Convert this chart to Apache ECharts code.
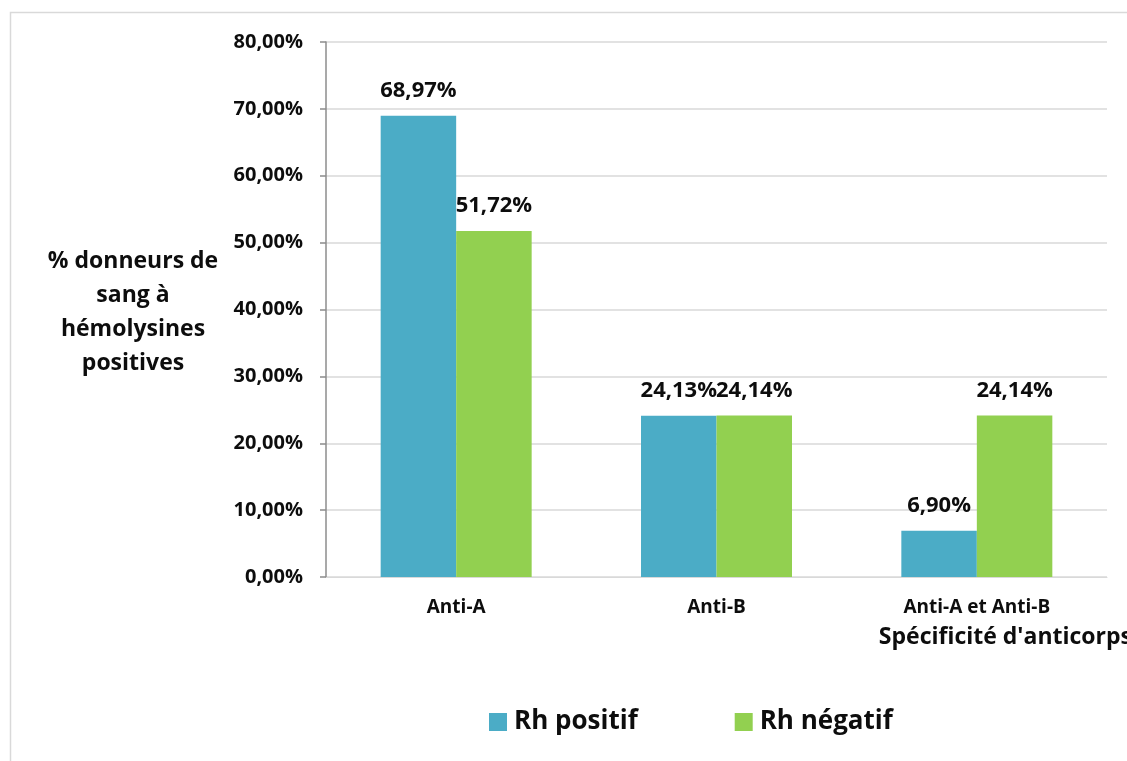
<!DOCTYPE html>
<html>
<head>
<meta charset="utf-8">
<script src="https://cdn.jsdelivr.net/npm/echarts@6/dist/echarts.min.js"></script>
<style>
  html, body { margin: 0; padding: 0; background: #fff; }
  #chart { width: 1127px; height: 761px; }
</style>
</head>
<body>
<div id="chart"></div>
<script>
// Hemolysin-positive donors by antibody specificity and Rh group
const categories = ['Anti-A', 'Anti-B', 'Anti-A et Anti-B'];
const rhPositif = [68.97, 24.13, 6.90];
const rhNegatif = [51.72, 24.14, 24.14];
const seriesNames = ['Rh positif', 'Rh négatif'];
const yTicks = [0, 10, 20, 30, 40, 50, 60, 70, 80];

const FONT = '"Open Sans", "Noto Sans", sans-serif';
const INK = '#0d0d0d';
const fmt = v => v.toFixed(2).replace('.', ',') + '%';

const chart = echarts.init(document.getElementById('chart'), null, { renderer: 'canvas' });

const labelCfg = {
  show: true,
  position: 'top',
  distance: 14,
  fontFamily: FONT,
  fontWeight: 'bold',
  fontSize: 22,
  color: INK,
  formatter: p => fmt(p.value)
};

chart.setOption({
  backgroundColor: '#fff',
  animation: false,
  grid: { left: 326, right: 20, top: 42, bottom: 184, containLabel: false },
  legend: {
    data: seriesNames,
    bottom: 21,
    left: 484,
    itemWidth: 18,
    itemHeight: 18,
    itemGap: 97,
    icon: 'rect',
    textStyle: { fontFamily: FONT, fontWeight: 'bold', fontSize: 26, color: INK, padding: [0, 0, 0, 2] }
  },
  xAxis: {
    type: 'category',
    data: categories,
    axisLine: { lineStyle: { color: '#d9d9d9', width: 1 } },
    axisTick: { show: false },
    axisLabel: { margin: 21, fontFamily: FONT, fontWeight: 'bold', fontSize: 19, color: INK }
  },
  yAxis: {
    type: 'value',
    min: yTicks[0],
    max: yTicks[yTicks.length - 1],
    interval: 10,
    axisLine: { show: true, lineStyle: { color: '#8c8c8c', width: 1.5 } },
    axisTick: { show: true, length: 6, inside: false, lineStyle: { color: '#8c8c8c', width: 1.5 } },
    splitLine: { lineStyle: { color: '#d9d9d9', width: 1.5 } },
    axisLabel: { margin: 23, fontFamily: FONT, fontWeight: 'bold', fontSize: 20, color: INK, formatter: v => fmt(v) }
  },
  series: [
    {
      name: seriesNames[0],
      type: 'bar',
      data: rhPositif,
      barGap: '0%',
      barCategoryGap: '42%',
      itemStyle: { color: '#4BACC6' },
      label: labelCfg
    },
    {
      name: seriesNames[1],
      type: 'bar',
      data: rhNegatif,
      itemStyle: { color: '#92D050' },
      label: labelCfg
    }
  ],
  graphic: [
    {
      type: 'rect',
      silent: true,
      shape: { x: 10.5, y: 12.5, width: 1300, height: 900 },
      style: { fill: 'none', stroke: '#d9d9d9', lineWidth: 1.5 }
    },
    {
      type: 'text',
      style: {
        x: 133, y: 312,
        text: '% donneurs de\nsang à\nhémolysines\npositives',
        textAlign: 'center',
        textVerticalAlign: 'middle',
        font: 'bold 23px ' + FONT,
        lineHeight: 34,
        fill: INK
      }
    },
    {
      type: 'text',
      style: {
        x: 1132, y: 637,
        text: "Spécificité d'anticorps",
        textAlign: 'right',
        textVerticalAlign: 'middle',
        font: 'bold 23px ' + FONT,
        fill: INK
      }
    }
  ]
});
</script>
</body>
</html>
